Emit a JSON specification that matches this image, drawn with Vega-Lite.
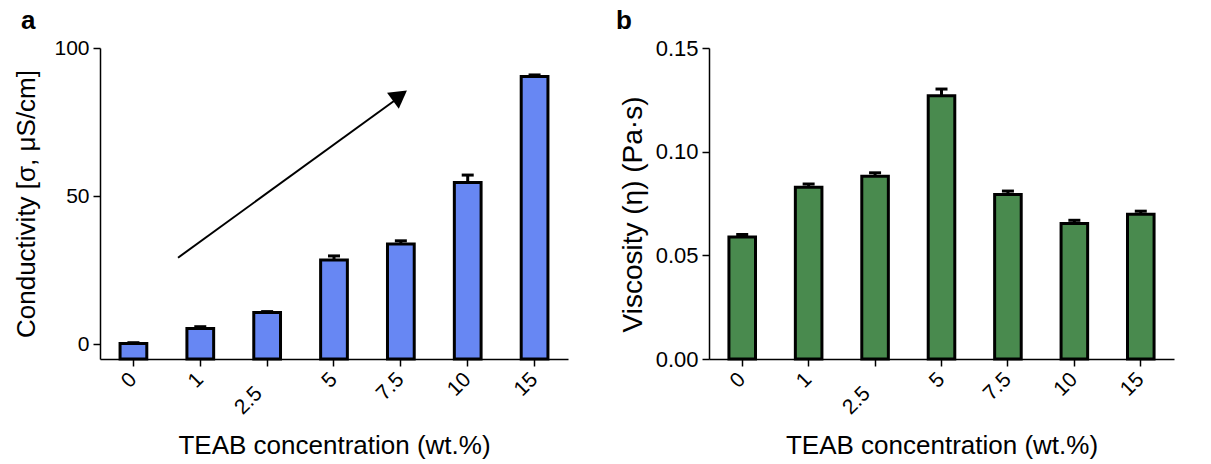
{
  "$schema": "https://vega.github.io/schema/vega-lite/v6.json",
  "padding": {"left": 13, "top": 8, "right": 20, "bottom": 0},
  "background": "white",
  "config": {
    "font": "Liberation Sans",
    "view": {"stroke": null},
    "axis": {"domainColor": "#000", "domainWidth": 1.5, "tickColor": "#000", "tickWidth": 1.5, "tickSize": 7, "labelColor": "#000", "titleColor": "#000", "labelFontSize": 21, "titleFontSize": 26, "titleFontWeight": "normal", "grid": false, "labelPadding": 4}
  },
  "datasets": {
    "cond": [
      {"conc": "0", "value": 0.2, "hi": 0.5},
      {"conc": "1", "value": 5.3, "hi": 5.9},
      {"conc": "2.5", "value": 10.7, "hi": 11.0},
      {"conc": "5", "value": 28.4, "hi": 29.8},
      {"conc": "7.5", "value": 33.8, "hi": 34.9},
      {"conc": "10", "value": 54.6, "hi": 57.1},
      {"conc": "15", "value": 90.4, "hi": 90.9}
    ],
    "visc": [
      {"conc": "0", "value": 0.0589, "hi": 0.0600},
      {"conc": "1", "value": 0.0828, "hi": 0.0844},
      {"conc": "2.5", "value": 0.0882, "hi": 0.0898},
      {"conc": "5", "value": 0.1270, "hi": 0.1302},
      {"conc": "7.5", "value": 0.0794, "hi": 0.0810},
      {"conc": "10", "value": 0.0653, "hi": 0.0669},
      {"conc": "15", "value": 0.0698, "hi": 0.0713}
    ]
  },
  "spacing": 48,
  "hconcat": [
    {
      "width": 468,
      "height": 311,
      "title": {"text": "a", "anchor": "start", "frame": "group", "dx": -79, "fontSize": 26, "fontWeight": "bold", "color": "#000", "offset": 3},
      "resolve": {"scale": {"x": "independent"}},
      "layer": [
        {
          "layer": [
            {
              "data": {"name": "cond"},
              "mark": {"type": "bar", "fill": "#6787f3", "stroke": "#000", "strokeWidth": 3},
              "encoding": {
                "x": {"field": "conc", "type": "nominal", "sort": null, "scale": {"paddingInner": 0.6, "paddingOuter": 0.3},
                      "axis": {"title": "TEAB concentration (wt.%)", "labelAngle": -45, "labelAlign": "right", "labelBaseline": "middle", "titlePadding": 15,
                               "labelPadding": {"condition": {"test": "datum.value === '2.5'", "value": 24}, "value": 10},
                               "labelOffset": {"condition": {"test": "datum.value === '2.5'", "value": -8}, "value": 0}}},
                "y": {"field": "value", "type": "quantitative", "scale": {"domain": [-5, 100], "nice": false, "zero": false},
                      "axis": {"values": [0, 50, 100], "title": "Conductivity [σ, μS/cm]", "titlePadding": 14}},
                "y2": {"datum": -5}
              }
            },
            {
              "data": {"name": "cond"},
              "mark": {"type": "rule", "stroke": "#000", "strokeWidth": 3},
              "encoding": {
                "x": {"field": "conc", "type": "nominal", "sort": null},
                "y": {"field": "value", "type": "quantitative"},
                "y2": {"field": "hi"}
              }
            },
            {
              "data": {"name": "cond"},
              "mark": {"type": "tick", "color": "#000", "size": 12, "thickness": 3, "opacity": 1},
              "encoding": {
                "x": {"field": "conc", "type": "nominal", "sort": null},
                "y": {"field": "hi", "type": "quantitative"}
              }
            }
          ]
        },
        {
          "layer": [
            {
              "data": {"values": [{}]},
              "mark": {"type": "rule", "stroke": "#000", "strokeWidth": 2},
              "encoding": {
                "x": {"datum": 1.167, "type": "quantitative", "scale": {"domain": [0, 7], "nice": false, "zero": false}, "axis": null},
                "y": {"datum": 29.2, "type": "quantitative"},
                "x2": {"datum": 4.5},
                "y2": {"datum": 83.8}
              }
            },
            {
              "data": {"values": [{}]},
              "mark": {"type": "point", "shape": "triangle-up", "filled": true, "fill": "#000", "opacity": 1, "size": 400, "angle": 54},
              "encoding": {
                "x": {"datum": 4.486, "type": "quantitative"},
                "y": {"datum": 83.9, "type": "quantitative"}
              }
            }
          ]
        }
      ]
    },
    {
      "width": 465,
      "height": 311,
      "title": {"text": "b", "anchor": "start", "frame": "group", "dx": -93, "fontSize": 26, "fontWeight": "bold", "color": "#000", "offset": 3},
      "layer": [
        {
          "data": {"name": "visc"},
          "mark": {"type": "bar", "fill": "#498a4e", "stroke": "#000", "strokeWidth": 3},
          "encoding": {
            "x": {"field": "conc", "type": "nominal", "sort": null, "scale": {"paddingInner": 0.6, "paddingOuter": 0.3},
                  "axis": {"title": "TEAB concentration (wt.%)", "labelAngle": -45, "labelAlign": "right", "labelBaseline": "middle", "titlePadding": 15,
                           "labelPadding": {"condition": {"test": "datum.value === '2.5'", "value": 24}, "value": 10},
                           "labelOffset": {"condition": {"test": "datum.value === '2.5'", "value": -8}, "value": 0}}},
            "y": {"field": "value", "type": "quantitative", "scale": {"domain": [0, 0.15], "nice": false},
                  "axis": {"values": [0, 0.05, 0.1, 0.15], "format": ".2f", "title": "Viscosity (η) (Pa·s)", "titleFontSize": 28, "titlePadding": 8, "titleAlign": "center", "titleAngle": -90, "titleY": 166, "labelFontSize": 22}}
          }
        },
        {
          "data": {"name": "visc"},
          "mark": {"type": "rule", "stroke": "#000", "strokeWidth": 3},
          "encoding": {
            "x": {"field": "conc", "type": "nominal", "sort": null},
            "y": {"field": "value", "type": "quantitative"},
            "y2": {"field": "hi"}
          }
        },
        {
          "data": {"name": "visc"},
          "mark": {"type": "tick", "color": "#000", "size": 12, "thickness": 3, "opacity": 1},
          "encoding": {
            "x": {"field": "conc", "type": "nominal", "sort": null},
            "y": {"field": "hi", "type": "quantitative"}
          }
        }
      ]
    }
  ]
}
